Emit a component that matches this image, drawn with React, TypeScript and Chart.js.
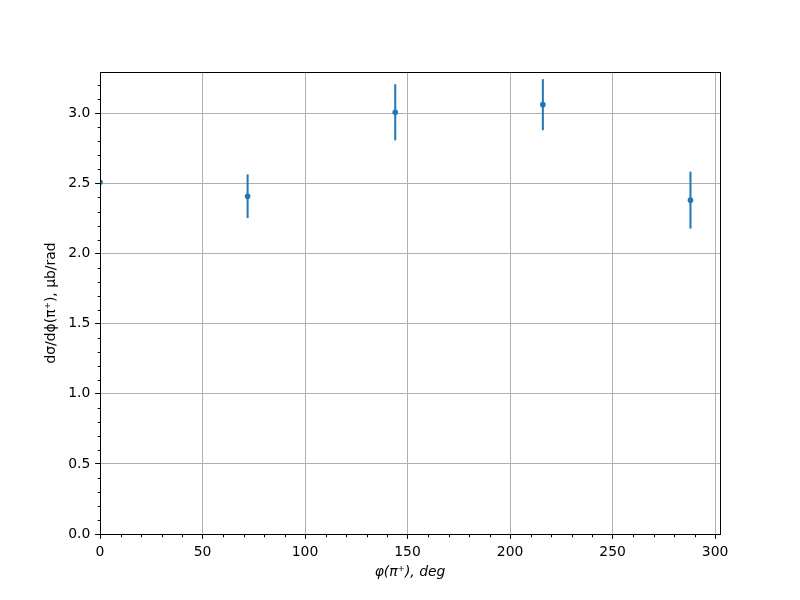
import React, { useEffect, useRef } from "react";
import { Chart, registerables } from "chart.js";

Chart.register(...registerables);

const phiDeg = [0, 72, 144, 216, 288];
const dSigma = [2.509, 2.409, 3.008, 3.062, 2.381];
const dSigmaErr = [0, 0.156, 0.2, 0.182, 0.203];

const xTickValues = [0, 50, 100, 150, 200, 250, 300];
const yTickValues = [0, 0.5, 1.0, 1.5, 2.0, 2.5, 3.0];
const xMajorStep = 50;
const xMinorStep = 10;
const yMajorStep = 0.5;
const yMinorStep = 0.1;
const xMin = 0;
const xMax = 302.4;
const yMin = 0;
const yMax = 3.295;

const FONT = "'DejaVu Sans', sans-serif";
const BLUE = "#1f77b4";

const errorBarPlugin = {
  id: "errorBars",
  beforeDatasetsDraw(chart: any) {
    const { ctx, chartArea, scales } = chart;
    const xs = scales.x;
    const ys = scales.y;
    ctx.save();
    ctx.beginPath();
    ctx.rect(chartArea.left, chartArea.top, chartArea.right - chartArea.left, chartArea.bottom - chartArea.top);
    ctx.clip();
    ctx.strokeStyle = BLUE;
    ctx.lineWidth = 2;
    for (let i = 0; i < phiDeg.length; i++) {
      const e = dSigmaErr[i];
      if (!e) continue;
      const px = xs.getPixelForValue(phiDeg[i]);
      const y1 = ys.getPixelForValue(dSigma[i] - e);
      const y2 = ys.getPixelForValue(dSigma[i] + e);
      ctx.beginPath();
      ctx.moveTo(px, y1);
      ctx.lineTo(px, y2);
      ctx.stroke();
    }
    ctx.restore();
  },
};

const framePlugin = {
  id: "frame",
  afterDraw(chart: any) {
    const { ctx, chartArea, scales } = chart;
    const xs = scales.x;
    const ys = scales.y;
    const L = Math.round(chartArea.left) + 0.5;
    const R = Math.round(chartArea.right) + 0.5;
    const T = Math.round(chartArea.top) + 0.5;
    const B = Math.round(chartArea.bottom) + 0.5;
    ctx.save();
    ctx.strokeStyle = "#000";
    ctx.lineWidth = 1;
    ctx.beginPath();
    for (let v = xMin; v <= xMax + 1e-9; v += xMinorStep) {
      if (Math.abs(v / xMajorStep - Math.round(v / xMajorStep)) < 1e-6) continue;
      const px = Math.round(xs.getPixelForValue(v)) + 0.5;
      ctx.moveTo(px, B);
      ctx.lineTo(px, B + 2.8);
    }
    for (let v = yMin; v <= yMax + 1e-9; v += yMinorStep) {
      const r = v / yMajorStep;
      if (Math.abs(r - Math.round(r)) < 1e-6) continue;
      const py = Math.round(ys.getPixelForValue(v)) + 0.5;
      ctx.moveTo(L, py);
      ctx.lineTo(L - 2.8, py);
    }
    ctx.stroke();
    ctx.strokeRect(L, T, R - L, B - T);
    ctx.restore();
  },
};

export default function App() {
  const ref = useRef<HTMLCanvasElement | null>(null);
  useEffect(() => {
    if (!ref.current) return;
    const chart = new Chart(ref.current, {
      type: "scatter",
      data: {
        datasets: [
          {
            data: phiDeg.map((x, i) => ({ x, y: dSigma[i] })),
            backgroundColor: BLUE,
            borderColor: BLUE,
            borderWidth: 0,
            pointRadius: 2.8,
            showLine: false,
            clip: 0,
          } as any,
        ],
      },
      options: {
        responsive: false,
        animation: false,
        events: [],
        layout: { padding: { left: 0, right: 80, top: 72, bottom: 0 } },
        plugins: { legend: { display: false }, tooltip: { enabled: false } },
        scales: {
          x: {
            type: "linear",
            min: xMin,
            max: xMax,
            afterBuildTicks: (s: any) => {
              s.ticks = xTickValues.map((value) => ({ value }));
            },
            afterFit: (s: any) => {
              s.height = 66;
            },
            border: { display: false },
            grid: {
              color: "#b0b0b0",
              lineWidth: 1,
              tickColor: "#000",
              tickWidth: 1,
              tickLength: 4.86,
            },
            ticks: {
              color: "#000",
              padding: 4.86,
              maxRotation: 0,
              autoSkip: false,
              font: { family: FONT, size: 13.9 },
              callback: (v: any) => String(v),
            },
            title: {
              display: true,
              text: "φ(π⁺), deg",
              color: "#000",
              font: { family: FONT, size: 13.9, style: "italic" },
              padding: { top: 0, bottom: 19.7 },
            },
          },
          y: {
            type: "linear",
            min: yMin,
            max: yMax,
            afterBuildTicks: (s: any) => {
              s.ticks = yTickValues.map((value) => ({ value }));
            },
            afterFit: (s: any) => {
              s.width = 100;
            },
            border: { display: false },
            grid: {
              color: "#b0b0b0",
              lineWidth: 1,
              tickColor: "#000",
              tickWidth: 1,
              tickLength: 4.86,
            },
            ticks: {
              color: "#000",
              padding: 4.86,
              autoSkip: false,
              font: { family: FONT, size: 13.9 },
              callback: (v: any) => Number(v).toFixed(1),
            },
            title: {
              display: true,
              text: "dσ/dϕ(π⁺), μb/rad",
              color: "#000",
              font: { family: FONT, size: 13.9 },
              padding: { top: 42.7, bottom: 0 },
            },
          },
        },
      },
      plugins: [errorBarPlugin, framePlugin],
    });
    return () => chart.destroy();
  }, []);
  return (
    <div style={{ position: "fixed", left: 0, top: 0, width: 800, height: 600, background: "#fff" }}>
      <canvas ref={ref} width={800} height={600} style={{ display: "block" }} />
    </div>
  );
}
